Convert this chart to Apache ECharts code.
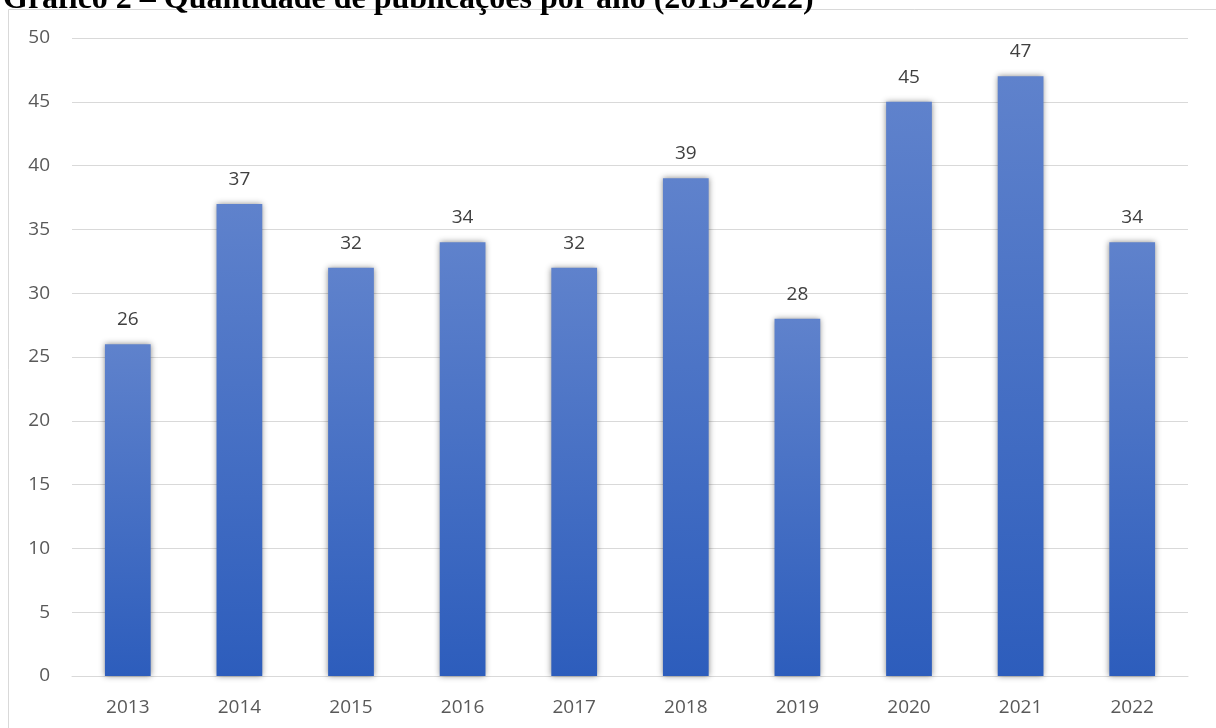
<!DOCTYPE html>
<html><head><meta charset="utf-8">
<script src="https://cdn.jsdelivr.net/npm/echarts@6/dist/echarts.min.js"></script>
<style>html,body{margin:0;padding:0;background:#fff}#c{width:1216px;height:728px}</style>
</head><body><div id="c"></div>
<script>
const categories = ['2013','2014','2015','2016','2017','2018','2019','2020','2021','2022'];
const values = [26,37,32,34,32,39,28,45,47,34];
const yTicks = {min:0,max:50,interval:5};
const titleText = 'Gráfico 2 – Quantidade de publicações por ano (2013-2022)';

const chart = echarts.init(document.getElementById('c'));
chart.setOption({
  animation:false,
  title:{text:titleText,left:-2,top:-21,textStyle:{fontFamily:'Liberation Serif',fontWeight:'bold',fontSize:32,color:'#000'}},
  graphic:[{type:'rect',shape:{x:8.5,y:9.5,width:1230,height:760},style:{fill:'none',stroke:'#d9d9d9',lineWidth:1},z:-1}],
  grid:{left:72,right:28,top:38,bottom:52},
  xAxis:{type:'category',data:categories,axisTick:{show:false},
    axisLine:{lineStyle:{color:'#d9d9d9',width:1}},
    axisLabel:{color:'#595959',fontSize:19,fontFamily:'Open Sans',margin:22}},
  yAxis:{type:'value',min:yTicks.min,max:yTicks.max,interval:yTicks.interval,
    axisLine:{show:false},axisTick:{show:false},
    splitLine:{lineStyle:{color:'#d9d9d9',width:1}},
    axisLabel:{color:'#595959',fontSize:19,fontFamily:'Open Sans',margin:22}},
  series:[{type:'bar',data:values,barWidth:'41%',
    itemStyle:{color:new echarts.graphic.LinearGradient(0,0,0,1,[{offset:0,color:'#5f82cc'},{offset:1,color:'#2d5dbc'}]),
      shadowColor:'rgba(0,0,0,0.45)',shadowBlur:6,shadowOffsetX:0,shadowOffsetY:0},
    label:{show:true,position:'top',distance:15,color:'#404040',fontSize:19,fontFamily:'Open Sans'}}]
});
</script></body></html>
